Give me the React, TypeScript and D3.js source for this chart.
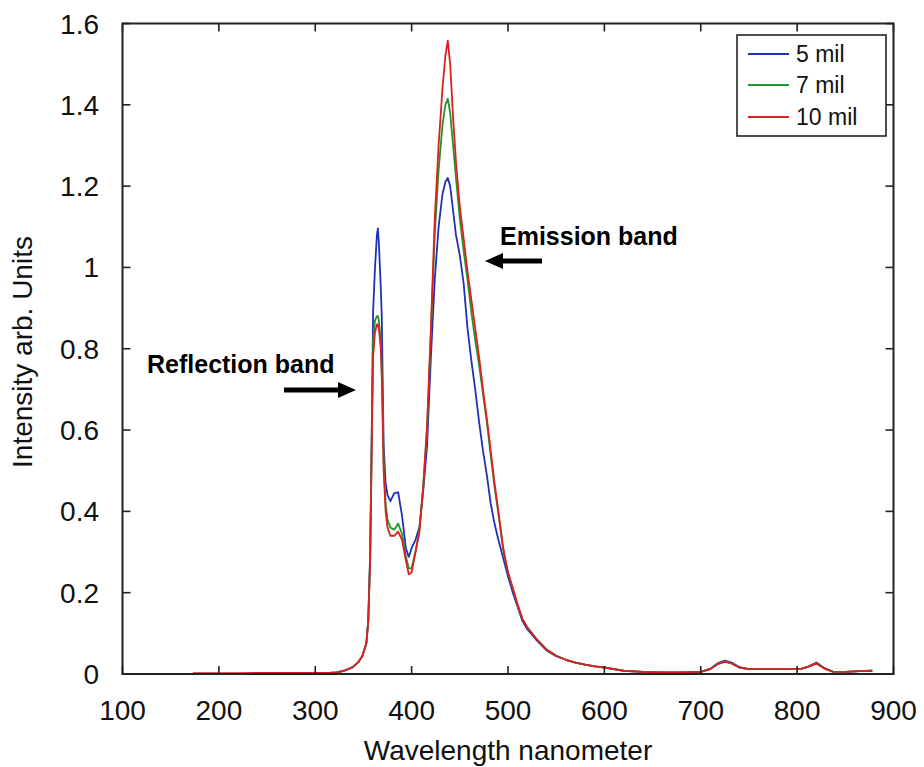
import React from "react";
import * as d3 from "d3";

// Wavelength grid (nm) shared by the 5 mil and 7 mil series
const wavelengths = [240, 260, 280, 300, 315, 322, 330, 339, 345, 349, 353, 355, 357, 359, 360, 362, 364, 365, 366, 368, 369, 370, 371, 373, 375, 378, 382, 386, 390, 394, 397, 400, 404, 408, 412, 416, 420, 424, 428, 432, 435, 437.5, 440, 443, 446, 450, 454, 458, 462, 466, 470, 474, 478, 482, 486, 490, 495, 500, 505, 510, 515, 520, 530, 540, 550, 560, 570, 580, 590, 600, 610, 620, 640, 660, 680, 700, 710, 718, 725, 732, 740, 750, 770, 790, 805, 812, 820, 828, 837, 850, 865, 878];

const mil5 = [0.003, 0.003, 0.003, 0.003, 0.003, 0.004, 0.008, 0.017, 0.03, 0.045, 0.075, 0.13, 0.3, 0.67, 0.89, 1.0, 1.08, 1.096, 1.06, 0.95, 0.88, 0.72, 0.56, 0.47, 0.44, 0.425, 0.445, 0.447, 0.39, 0.31, 0.288, 0.31, 0.33, 0.36, 0.45, 0.56, 0.78, 0.97, 1.1, 1.18, 1.21, 1.22, 1.2, 1.14, 1.08, 1.03, 0.96, 0.85, 0.77, 0.7, 0.62, 0.55, 0.49, 0.42, 0.37, 0.33, 0.285, 0.24, 0.2, 0.165, 0.13, 0.11, 0.082, 0.058, 0.044, 0.035, 0.028, 0.023, 0.019, 0.016, 0.012, 0.008, 0.005, 0.004, 0.004, 0.005, 0.013, 0.027, 0.033, 0.028, 0.017, 0.012, 0.012, 0.012, 0.013, 0.019, 0.028, 0.015, 0.006, 0.005, 0.007, 0.008];

const mil7 = [0.003, 0.003, 0.003, 0.003, 0.003, 0.004, 0.008, 0.017, 0.03, 0.045, 0.075, 0.13, 0.29, 0.65, 0.82, 0.87, 0.88, 0.88, 0.87, 0.82, 0.75, 0.65, 0.52, 0.42, 0.38, 0.36, 0.355, 0.37, 0.345, 0.29, 0.26, 0.26, 0.3, 0.35, 0.46, 0.6, 0.84, 1.08, 1.24, 1.35, 1.4, 1.415, 1.38, 1.3, 1.22, 1.12, 1.04, 0.97, 0.89, 0.82, 0.76, 0.69, 0.62, 0.54, 0.46, 0.395, 0.305, 0.25, 0.21, 0.17, 0.135, 0.115, 0.085, 0.06, 0.045, 0.035, 0.028, 0.023, 0.019, 0.016, 0.012, 0.008, 0.005, 0.004, 0.004, 0.005, 0.012, 0.025, 0.031, 0.026, 0.016, 0.012, 0.012, 0.012, 0.013, 0.018, 0.026, 0.014, 0.006, 0.005, 0.007, 0.008];

// 10 mil series begins earlier
const wavelengths10 = [173, 200, 220, ...wavelengths];
const mil10 = [0.002, 0.002, 0.002, 0.003, 0.003, 0.003, 0.003, 0.003, 0.004, 0.008, 0.017, 0.03, 0.045, 0.075, 0.13, 0.28, 0.62, 0.78, 0.84, 0.86, 0.86, 0.85, 0.8, 0.73, 0.62, 0.5, 0.4, 0.36, 0.34, 0.34, 0.35, 0.33, 0.28, 0.245, 0.25, 0.3, 0.35, 0.46, 0.61, 0.85, 1.12, 1.3, 1.44, 1.52, 1.558, 1.5, 1.37, 1.26, 1.15, 1.07, 0.99, 0.92, 0.85, 0.78, 0.7, 0.63, 0.55, 0.47, 0.4, 0.31, 0.25, 0.21, 0.17, 0.135, 0.115, 0.085, 0.06, 0.045, 0.035, 0.028, 0.023, 0.019, 0.016, 0.012, 0.008, 0.005, 0.004, 0.004, 0.005, 0.012, 0.025, 0.03, 0.026, 0.016, 0.012, 0.012, 0.012, 0.013, 0.018, 0.026, 0.014, 0.006, 0.005, 0.007, 0.008];

const seriesNames = ["5 mil", "7 mil", "10 mil"];
const seriesColors = ["#2030b8", "#22962a", "#dc2020"];
const xTicks = [100, 200, 300, 400, 500, 600, 700, 800, 900];
const yTicks = [0, 0.2, 0.4, 0.6, 0.8, 1, 1.2, 1.4, 1.6];

const FONT = "Liberation Sans, Arial, Helvetica, sans-serif";

export default function App() {
  const x = d3.scaleLinear().domain([100, 900]).range([122.5, 893.5]);
  const y = d3.scaleLinear().domain([0, 1.6]).range([674, 23.5]);

  const line = d3
    .line<[number, number]>()
    .x((d) => x(d[0]))
    .y((d) => y(d[1]));

  const series = [
    { name: seriesNames[0], color: seriesColors[0], pts: wavelengths.map((w, i) => [w, mil5[i]] as [number, number]) },
    { name: seriesNames[1], color: seriesColors[1], pts: wavelengths.map((w, i) => [w, mil7[i]] as [number, number]) },
    { name: seriesNames[2], color: seriesColors[2], pts: wavelengths10.map((w, i) => [w, mil10[i]] as [number, number]) },
  ];

  const x0 = x(100), x1 = x(900), yT = y(1.6), yB = y(0);
  const tl = 8;

  const legendRows = [54, 85, 117];

  return (
    <svg width={924} height={767} style={{ position: "absolute", left: 0, top: 0, background: "#fff" }} fontFamily={FONT}>
      <rect x={0} y={0} width={924} height={767} fill="#fff" />
      {/* series */}
      {series.map((s) => (
        <path key={s.name} d={line(s.pts) || ""} fill="none" stroke={s.color} strokeWidth={1.8} strokeLinejoin="round" />
      ))}
      {/* ticks */}
      {xTicks.map((t) => (
        <g key={"xt" + t}>
          <line x1={x(t)} x2={x(t)} y1={yB} y2={yB - tl} stroke="#222" strokeWidth={1.6} />
          <line x1={x(t)} x2={x(t)} y1={yT} y2={yT + tl} stroke="#222" strokeWidth={1.6} />
          <text x={x(t)} y={720} fontSize={28} textAnchor="middle" fill="#111">{t}</text>
        </g>
      ))}
      {yTicks.map((t) => (
        <g key={"yt" + t}>
          <line x1={x0} x2={x0 + tl} y1={y(t)} y2={y(t)} stroke="#222" strokeWidth={1.6} />
          <line x1={x1} x2={x1 - tl} y1={y(t)} y2={y(t)} stroke="#222" strokeWidth={1.6} />
          <text x={99} y={y(t) + 10} fontSize={28} textAnchor="end" fill="#111">{String(t)}</text>
        </g>
      ))}
      {/* frame */}
      <rect x={x0} y={yT} width={x1 - x0} height={yB - yT} fill="none" stroke="#222" strokeWidth={2} />
      {/* axis titles */}
      <text x={(x0 + x1) / 2} y={760} fontSize={28} textAnchor="middle" fill="#111">Wavelength nanometer</text>
      <text transform={`translate(32,352) rotate(-90)`} fontSize={28} textAnchor="middle" fill="#111">Intensity arb. Units</text>
      {/* legend */}
      <rect x={737} y={35} width={149} height={101} fill="#fff" stroke="#222" strokeWidth={1.6} />
      {series.map((s, i) => (
        <g key={"lg" + s.name}>
          <line x1={748} x2={789} y1={legendRows[i]} y2={legendRows[i]} stroke={s.color} strokeWidth={1.8} />
          <text x={796} y={legendRows[i] + 8} fontSize={23} fill="#111">{s.name}</text>
        </g>
      ))}
      {/* annotations */}
      <text x={147} y={373} fontSize={25} fontWeight="bold" fill="#000">Reflection band</text>
      <line x1={284} x2={340} y1={390} y2={390} stroke="#000" strokeWidth={5} />
      <polygon points="338,382 356,390 338,398" fill="#000" />
      <text x={500} y={245} fontSize={25} fontWeight="bold" fill="#000">Emission band</text>
      <line x1={500} x2={542} y1={261} y2={261} stroke="#000" strokeWidth={5} />
      <polygon points="503,253 485,261 503,269" fill="#000" />
    </svg>
  );
}
